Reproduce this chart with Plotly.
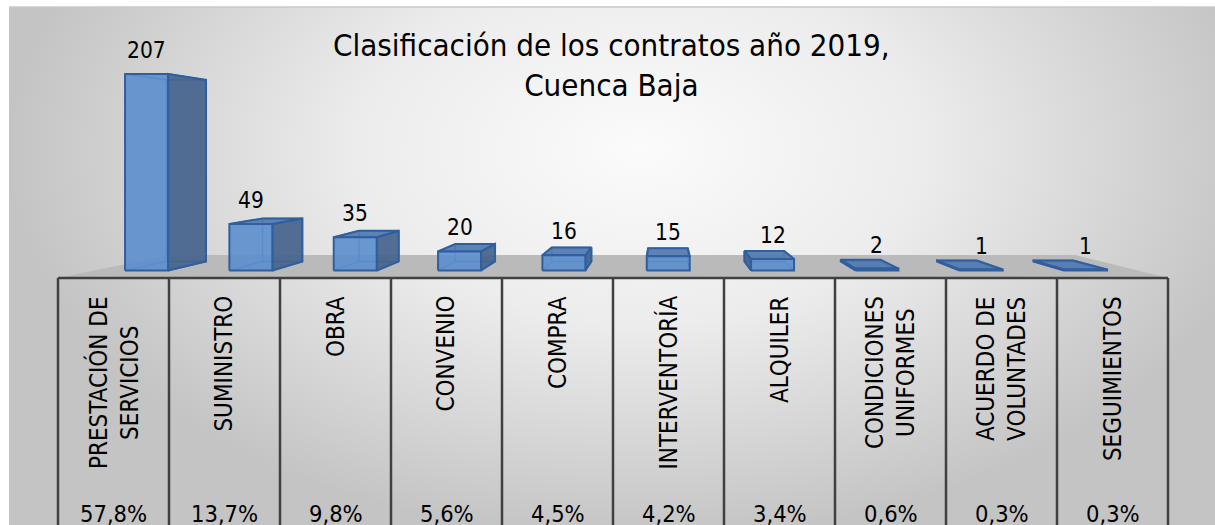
import plotly.graph_objects as go

# ---------------- data ----------------
categories = ["PRESTACIÓN DE<br>SERVICIOS", "SUMINISTRO", "OBRA", "CONVENIO", "COMPRA",
              "INTERVENTORÍA", "ALQUILER", "CONDICIONES<br>UNIFORMES", "ACUERDO DE<br>VOLUNTADES",
              "SEGUIMIENTOS"]
values = [207, 49, 35, 20, 16, 15, 12, 2, 1, 1]
percent_labels = ["57,8%", "13,7%", "9,8%", "5,6%", "4,5%", "4,2%", "3,4%", "0,6%", "0,3%", "0,3%"]
title_text = "Clasificación de los contratos año 2019,<br>Cuenca Baja"

# ---------------- view / style parameters ----------------
VP = (4.96, 123.8)          # vanishing point (data units)
S_FRONT = 0.94               # depth scale of bar front faces
S_BACK = 0.868               # depth scale of bar back faces
S_FLOOR_BACK = 0.816         # depth scale of floor back edge
HALF_W = 0.206               # bar half width (category units)
X_RANGE = [-1.0225, 9.9234]
Y_RANGE = [-244.6, 275.2]
LABEL_Y = -16.0
PCT_Y = -233.7

FONT = "Tahoma, 'DejaVu Sans Condensed', 'DejaVu Sans', sans-serif"
FRONT = "rgba(92,142,205,0.9)"
SIDE = "rgba(68,99,140,0.92)"
TOP = "rgba(80,120,176,0.92)"
EDGE = "#2f5f9f"
HIDDEN = "rgba(60,105,170,0.9)"
GRID = "#404040"


def proj(x, y, s):
    return VP[0] + (x - VP[0]) * s, VP[1] + (y - VP[1]) * s


def poly(points, fill, line_color=EDGE, width=2):
    xs = [p[0] for p in points] + [points[0][0]]
    ys = [p[1] for p in points] + [points[0][1]]
    return go.Scatter(x=xs, y=ys, mode="lines", fill="toself", fillcolor=fill,
                      line=dict(color=line_color, width=width), hoverinfo="skip",
                      showlegend=False)


fig = go.Figure()

# background with radial gradient
bx0, bx1 = -0.9414, 10.43
by0, by1 = -259.4, 513.9
fig.add_trace(go.Scatter(
    x=[bx0, bx1, bx1, bx0, bx0], y=[by0, by0, by1, by1, by0], mode="lines",
    fill="toself", line=dict(width=0, color="rgba(0,0,0,0)"),
    fillgradient=dict(type="radial",
                      colorscale=[[0, "#fbfbfb"], [0.45, "#ececec"], [1, "#c4c4c4"]]),
    hoverinfo="skip", showlegend=False))

# floor
n = len(values)
fl = [proj(-0.5, 0, 1), proj(n - 0.5, 0, 1), proj(n - 0.5, 0, S_FLOOR_BACK), proj(-0.5, 0, S_FLOOR_BACK)]
fig.add_trace(poly(fl, "#bababa", line_color="rgba(0,0,0,0)", width=0))

# bars
for i, v in enumerate(values):
    x0, x1 = i - HALF_W, i + HALF_W
    y0, y1 = 0, v
    F = [proj(x0, y0, S_FRONT), proj(x1, y0, S_FRONT), proj(x1, y1, S_FRONT), proj(x0, y1, S_FRONT)]
    B = [proj(x0, y0, S_BACK), proj(x1, y0, S_BACK), proj(x1, y1, S_BACK), proj(x0, y1, S_BACK)]
    # hidden edges (seen through the translucent box)
    hx, hy = [], []
    for a, b in [(B[0], B[1]), (B[1], B[2]), (B[2], B[3]), (B[3], B[0]),
                 (F[0], B[0]), (F[1], B[1]), (F[2], B[2]), (F[3], B[3])]:
        hx += [a[0], b[0], None]
        hy += [a[1], b[1], None]
    fig.add_trace(go.Scatter(x=hx, y=hy, mode="lines", line=dict(color=HIDDEN, width=1.5),
                             hoverinfo="skip", showlegend=False))
    if x1 < VP[0]:
        fig.add_trace(poly([F[1], B[1], B[2], F[2]], SIDE))
    if x0 > VP[0]:
        fig.add_trace(poly([F[0], B[0], B[3], F[3]], SIDE))
    if y1 < VP[1]:
        fig.add_trace(poly([F[3], F[2], B[2], B[3]], TOP))
    fig.add_trace(poly(F, FRONT))
    lx, ly = proj(i, y1, S_FRONT)
    fig.add_annotation(x=lx, y=ly, text=str(v), showarrow=False, xanchor="center",
                       yanchor="bottom", yshift=9, font=dict(family=FONT, size=22.5, color="#000"))

# data table
shapes = [dict(type="line", xref="x", yref="y", x0=-0.5, x1=n - 0.5, y0=0, y1=0,
               line=dict(color=GRID, width=2.5), layer="above")]
for k in range(n + 1):
    shapes.append(dict(type="line", xref="x", yref="y", x0=k - 0.5, x1=k - 0.5, y0=0, y1=-300,
                       line=dict(color=GRID, width=2.5), layer="above"))
# white margin strips and top border of the chart area
shapes.append(dict(type="rect", xref="paper", yref="paper", x0=0, x1=1, y0=1 - 7 / 525, y1=1,
                   fillcolor="white", line=dict(width=0), layer="above"))
shapes.append(dict(type="rect", xref="paper", yref="paper", x0=0, x1=9 / 1215, y0=0, y1=1,
                   fillcolor="white", line=dict(width=0), layer="above"))
shapes.append(dict(type="line", xref="paper", yref="paper", x0=9 / 1215, x1=1, y0=1 - 7 / 525,
                   y1=1 - 7 / 525, line=dict(color="#c8c8c8", width=1.5), layer="above"))

for i, (c, p) in enumerate(zip(categories, percent_labels)):
    fig.add_annotation(x=i, y=LABEL_Y, text=c, textangle=-90, showarrow=False,
                       xanchor="center", yanchor="top", align="center",
                       font=dict(family=FONT, size=24, color="#000"))
    fig.add_annotation(x=i, y=PCT_Y, text=p, showarrow=False, xanchor="center",
                       yanchor="middle", font=dict(family=FONT, size=23.5, color="#000"))

fig.add_annotation(xref="paper", yref="paper", x=612 / 1215, y=1 - 25 / 525, text=title_text,
                   showarrow=False, xanchor="center", yanchor="top", align="center",
                   font=dict(family=FONT, size=31, color="#000"))

fig.update_layout(
    width=1215, height=525, margin=dict(l=0, r=0, t=0, b=0),
    paper_bgcolor="white", plot_bgcolor="white", shapes=shapes,
    xaxis=dict(range=X_RANGE, visible=False, fixedrange=True),
    yaxis=dict(range=Y_RANGE, visible=False, fixedrange=True),
    showlegend=False,
)

fig.write_html("out.html", config={"displayModeBar": False},
               post_script="document.body.style.margin='0';document.body.style.overflow='hidden';")
